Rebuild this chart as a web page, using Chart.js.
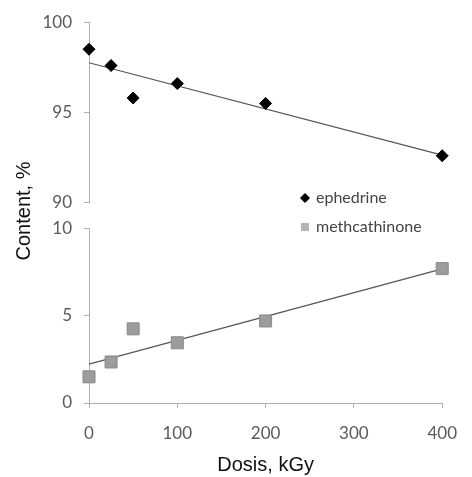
<!DOCTYPE html>
<html>
<head>
<meta charset="utf-8">
<script src="https://cdn.jsdelivr.net/npm/chart.js@4"></script>
<style>
html, body { margin: 0; padding: 0; background: #fff; }
#wrap { width: 472px; height: 477px; }
</style>
</head>
<body>
<div id="wrap"><canvas id="grafica"></canvas></div>
<script>
const dosis = [0, 25, 50, 100, 200, 400];
const efedrina = [98.5, 97.6, 95.8, 96.6, 95.5, 92.6];
const metcatinona = [1.5, 2.35, 4.25, 3.45, 4.7, 7.7];
const ticksX = [0, 100, 200, 300, 400];
const ticksArriba = [90, 95, 100];
const ticksAbajo = [0, 5, 10];
const nombres = ['ephedrine', 'methcathinone'];
const tituloX = 'Dosis, kGy';
const tituloY = 'Content, %';

function puntos(ys) {
  return dosis.map((d, i) => ({x: d, y: ys[i]}));
}

// linea de tendencia (minimos cuadrados), como la de Excel
function tendencia(ys) {
  const n = dosis.length;
  const mx = dosis.reduce((a, b) => a + b, 0) / n;
  const my = ys.reduce((a, b) => a + b, 0) / n;
  let sxy = 0, sxx = 0;
  for (let i = 0; i < n; i++) {
    sxy += (dosis[i] - mx) * (ys[i] - my);
    sxx += (dosis[i] - mx) * (dosis[i] - mx);
  }
  const m = sxy / sxx;
  const b = my - m * mx;
  const x0 = ticksX[0], x1 = ticksX[ticksX.length - 1];
  return [{x: x0, y: b + m * x0}, {x: x1, y: b + m * x1}];
}

const gris = '#b0b0b0';
const fuenteTicks = {family: 'Lato', size: 17};

function fijarTicks(lista) {
  return s => { s.ticks = lista.map(v => ({value: v})); };
}

const ejeY = (lista, peso) => ({
  type: 'linear',
  position: 'left',
  stack: 'panel',
  stackWeight: peso,
  min: lista[0],
  max: lista[lista.length - 1],
  afterBuildTicks: fijarTicks(lista),
  afterFit: s => { s.width = 89; },
  grid: {display: true, drawOnChartArea: false, drawTicks: true, tickLength: 5, color: gris},
  border: {display: true, color: gris},
  ticks: {color: '#5a5a5a', font: fuenteTicks, padding: 12}
});

// leyenda dentro del grafico y titulo del eje y (comun a los dos paneles)
const leyenda = {
  id: 'leyenda',
  afterDraw(chart) {
    const ctx = chart.ctx;
    const filas = [198, 227];
    const radios = [4.5, 5];
    nombres.forEach((nom, i) => {
      const ds = chart.data.datasets[i];
      ctx.save();
      ctx.fillStyle = i === 0 ? ds.backgroundColor : '#b4b4b4';
      ctx.strokeStyle = i === 0 ? ds.borderColor : '#b4b4b4';
      ctx.lineWidth = 1;
      Chart.helpers.drawPoint(ctx, {
        pointStyle: ds.pointStyle, radius: radios[i], rotation: 0, borderWidth: 1
      }, 305, filas[i]);
      ctx.fillStyle = '#444';
      ctx.font = '16px Lato';
      ctx.textBaseline = 'middle';
      ctx.textAlign = 'left';
      ctx.fillText(nom, 316, filas[i]);
      ctx.restore();
    });
    ctx.save();
    ctx.translate(24, 211);
    ctx.rotate(-Math.PI / 2);
    ctx.fillStyle = '#111';
    ctx.font = '20px "Liberation Sans"';
    ctx.textAlign = 'center';
    ctx.textBaseline = 'middle';
    ctx.fillText(tituloY, 0, 0);
    ctx.restore();
  }
};

new Chart('grafica', {
  type: 'scatter',
  data: {
    datasets: [{
      label: nombres[0],
      data: puntos(efedrina),
      yAxisID: 'yArriba',
      pointStyle: 'rectRot',
      pointRadius: 6,
      backgroundColor: '#000',
      borderColor: '#000',
      clip: false
    }, {
      label: nombres[1],
      data: puntos(metcatinona),
      yAxisID: 'yAbajo',
      pointStyle: 'rect',
      pointRadius: 8.5,
      backgroundColor: '#9c9c9c',
      borderColor: '#8a8a8a',
      borderWidth: 1,
      clip: false
    }, {
      label: 'tendencia 1',
      type: 'line',
      data: tendencia(efedrina),
      yAxisID: 'yArriba',
      borderColor: '#555',
      borderWidth: 1.2,
      pointRadius: 0,
      clip: false
    }, {
      label: 'tendencia 2',
      type: 'line',
      data: tendencia(metcatinona),
      yAxisID: 'yAbajo',
      borderColor: '#555',
      borderWidth: 1.2,
      pointRadius: 0,
      clip: false
    }]
  },
  options: {
    responsive: true,
    maintainAspectRatio: false,
    animation: false,
    layout: {padding: {left: 0, right: 18, top: 19, bottom: 0}},
    plugins: {legend: {display: false}, tooltip: {enabled: false}},
    scales: {
      x: {
        type: 'linear',
        min: ticksX[0],
        max: ticksX[ticksX.length - 1],
        afterBuildTicks: fijarTicks(ticksX),
        afterFit: s => { s.height = 74; },
        grid: {display: true, drawOnChartArea: false, drawTicks: true, tickLength: 5, color: gris},
        border: {display: true, color: gris},
        ticks: {color: '#5a5a5a', font: fuenteTicks, padding: 15, maxRotation: 0},
        title: {display: true, text: tituloX, color: '#111', font: {family: 'Liberation Sans', size: 20}, padding: {top: 8, bottom: 0}}
      },
      yAbajo: ejeY(ticksAbajo, 176),
      yHueco: {
        type: 'linear',
        position: 'left',
        stack: 'panel',
        stackWeight: 26,
        min: 0,
        max: 1,
        afterFit: s => { s.width = 89; },
        grid: {display: false},
        border: {display: false},
        ticks: {display: false}
      },
      yArriba: ejeY(ticksArriba, 182)
    }
  },
  plugins: [leyenda]
});
</script>
</body>
</html>
